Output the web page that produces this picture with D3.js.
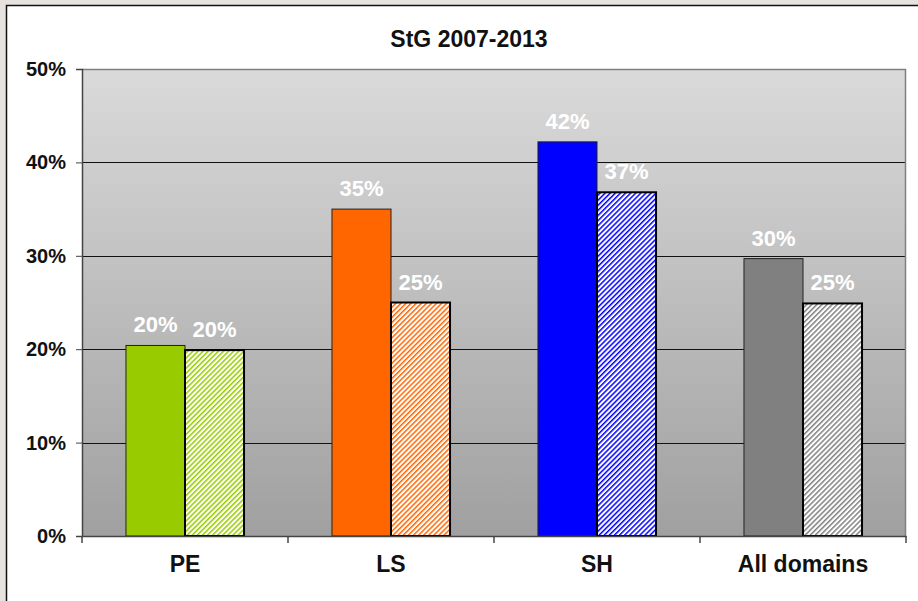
<!DOCTYPE html>
<html>
<head>
<meta charset="utf-8">
<script src="https://cdn.jsdelivr.net/npm/d3@7"></script>
<style>
  body { margin: 0; background: #e6e2de; }
  svg { display: block; font-family: Arial, "Liberation Sans", sans-serif; }
</style>
</head>
<body>
<svg id="chart"></svg>
<script>
// chart data
const categories = ["PE", "LS", "SH", "All domains"];
const seriesSolid = [20.4, 35.0, 42.2, 29.7];
const seriesHatched = [19.9, 25.0, 36.8, 24.9];
const labelsSolid = ["20%", "35%", "42%", "30%"];
const labelsHatched = ["20%", "25%", "37%", "25%"];
const barColors = ["#99cc00", "#ff6600", "#0000ff", "#808080"];
const yTicks = [0, 10, 20, 30, 40, 50];
const title = "StG 2007-2013";

const width = 918, height = 601;
const margin = { top: 69, right: 12, bottom: 65, left: 82 };
const innerW = width - margin.left - margin.right;
const innerH = height - margin.top - margin.bottom;

const svg = d3.select("#chart").attr("width", width).attr("height", height);

// white panel with dark left/top edge
svg.append("rect").attr("x", 6).attr("y", 5).attr("width", width - 6).attr("height", height - 5)
  .attr("fill", "#fff");
svg.append("path").attr("d", `M6.5,${height} V5.5 H${width}`)
  .attr("fill", "none").attr("stroke", "#111").attr("stroke-width", 1.5);

const defs = svg.append("defs");

// plot background gradient
const grad = defs.append("linearGradient").attr("id", "bg")
  .attr("x1", 0).attr("y1", 0).attr("x2", 0).attr("y2", 1);
grad.append("stop").attr("offset", "0%").attr("stop-color", "#dadada");
grad.append("stop").attr("offset", "100%").attr("stop-color", "#a0a0a0");

// diagonal hatch patterns, one per colour
barColors.forEach((c, i) => {
  const p = defs.append("pattern").attr("id", "hatch" + i)
    .attr("patternUnits", "userSpaceOnUse")
    .attr("width", 3.6).attr("height", 3.6)
    .attr("patternTransform", "rotate(45)");
  p.append("rect").attr("width", 3.6).attr("height", 3.6).attr("fill", "#fff");
  p.append("rect").attr("width", 1.5).attr("height", 3.6).attr("fill", c);
});

const g = svg.append("g").attr("transform", `translate(${margin.left},${margin.top})`);

const x = d3.scaleBand().domain(categories).range([0, innerW]).paddingInner(0).paddingOuter(0);
const xSub = d3.scaleBand().domain([0, 1]).range([0, x.bandwidth()]).paddingInner(0).paddingOuter(0.745);
const y = d3.scaleLinear().domain([0, 50]).range([innerH, 0]);

g.append("rect").attr("width", innerW).attr("height", innerH).attr("fill", "url(#bg)");

// gridlines
g.selectAll(".grid").data(yTicks.filter(t => t > 0 && t < 50)).join("line")
  .attr("class", "grid")
  .attr("x1", 0).attr("x2", innerW)
  .attr("y1", d => Math.round(y(d)) + 0.5).attr("y2", d => Math.round(y(d)) + 0.5)
  .attr("stroke", "#111").attr("stroke-width", 1);

// plot border top/right
g.append("path").attr("d", `M0,0.5 H${innerW - 0.5} V${innerH}`)
  .attr("fill", "none").attr("stroke", "#808080").attr("stroke-width", 1.5);

// bars
const groups = g.selectAll(".grp").data(categories).join("g")
  .attr("class", "grp")
  .attr("transform", d => `translate(${x(d)},0)`);

groups.append("rect")
  .attr("x", xSub(0)).attr("width", xSub.bandwidth())
  .attr("y", (d, i) => y(seriesSolid[i]))
  .attr("height", (d, i) => innerH - y(seriesSolid[i]))
  .attr("fill", (d, i) => barColors[i])
  .attr("stroke", "#222").attr("stroke-width", 1);

groups.append("rect")
  .attr("x", xSub(1)).attr("width", xSub.bandwidth())
  .attr("y", (d, i) => y(seriesHatched[i]))
  .attr("height", (d, i) => innerH - y(seriesHatched[i]))
  .attr("fill", (d, i) => `url(#hatch${i})`)
  .attr("stroke", "#000").attr("stroke-width", 2);

// value labels
groups.append("text")
  .attr("x", xSub(0) + xSub.bandwidth() / 2)
  .attr("y", (d, i) => y(seriesSolid[i]) - 13)
  .attr("text-anchor", "middle")
  .attr("fill", "#fff").attr("font-weight", "bold").attr("font-size", 22)
  .text((d, i) => labelsSolid[i]);

groups.append("text")
  .attr("x", xSub(1) + xSub.bandwidth() / 2)
  .attr("y", (d, i) => y(seriesHatched[i]) - 13)
  .attr("text-anchor", "middle")
  .attr("fill", "#fff").attr("font-weight", "bold").attr("font-size", 22)
  .text((d, i) => labelsHatched[i]);

// axes
const yAxis = d3.axisLeft(y).tickValues(yTicks).tickSize(6).tickPadding(10)
  .tickFormat(d => d + "%");
const yG = g.append("g").call(yAxis);
yG.select(".domain").attr("stroke", "#444").attr("stroke-width", 1.5);
yG.selectAll(".tick line").attr("stroke", "#444");
yG.selectAll("text").attr("font-size", 20).attr("font-weight", "bold").attr("fill", "#111")
  .attr("font-family", "Arial, 'Liberation Sans', sans-serif");

const xAxis = d3.axisBottom(x).tickSize(0).tickPadding(20);
const xG = g.append("g").attr("transform", `translate(0,${innerH})`).call(xAxis);
xG.select(".domain").attr("stroke", "#444").attr("stroke-width", 1.5);
xG.selectAll("text").attr("font-size", 23).attr("font-weight", "bold").attr("fill", "#111")
  .attr("font-family", "Arial, 'Liberation Sans', sans-serif");

// category separator ticks
g.selectAll(".sep").data(categories).join("line")
  .attr("class", "sep")
  .attr("x1", d => x(d) + x.bandwidth()).attr("x2", d => x(d) + x.bandwidth())
  .attr("y1", innerH).attr("y2", innerH + 7)
  .attr("stroke", "#444").attr("stroke-width", 1.5);
g.append("line").attr("x1", 0).attr("x2", 0).attr("y1", innerH).attr("y2", innerH + 7)
  .attr("stroke", "#444").attr("stroke-width", 1.5);

// title
svg.append("text")
  .attr("x", 469).attr("y", 47)
  .attr("text-anchor", "middle")
  .attr("font-size", 23).attr("font-weight", "bold").attr("fill", "#111")
  .text(title);
</script>
</body>
</html>
